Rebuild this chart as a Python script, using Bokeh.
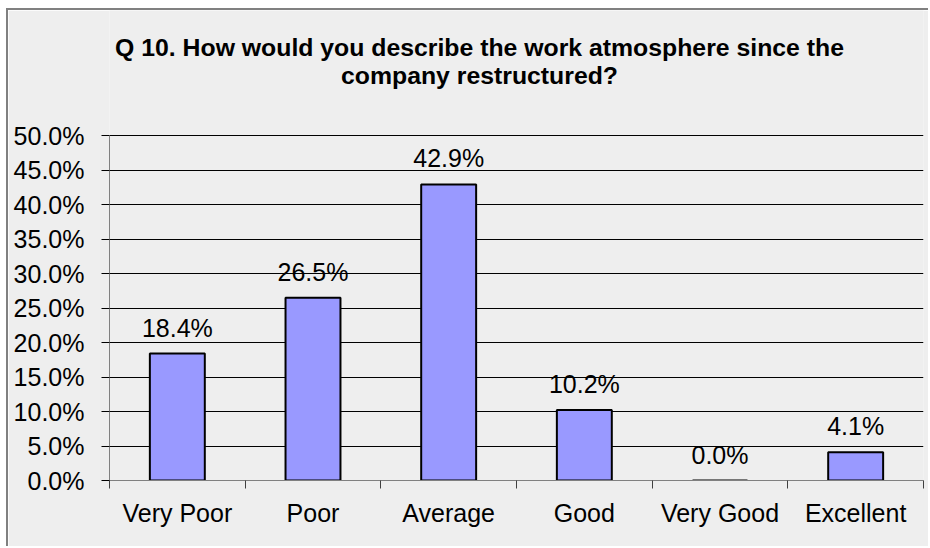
from bokeh.plotting import figure
from bokeh.models import (Range1d, FixedTicker, NumeralTickFormatter, LinearAxis,
                          ColumnDataSource, Label, Grid)
from bokeh.core.properties import value
from bokeh.embed import file_html
from bokeh.resources import INLINE

categories = ["Very Poor", "Poor", "Average", "Good", "Very Good", "Excellent"]
shares = [0.184, 0.265, 0.429, 0.102, 0.0, 0.041]
labels = ["18.4%", "26.5%", "42.9%", "10.2%", "0.0%", "4.1%"]
y_ticks = [0.0, 0.05, 0.10, 0.15, 0.20, 0.25, 0.30, 0.35, 0.40, 0.45, 0.50]
title_line1 = "Q 10. How would you describe the work atmosphere since the"
title_line2 = "company restructured?"

FONT = "Liberation Sans"
BG = "#eeeeee"

# layout (pixels)
FRAME_H = 470          # frame spans the title area too
AXIS_H = 345           # height of the 0..50% value axis
y_top = y_ticks[-1] * FRAME_H / AXIS_H

xpos = [i + 0.5 for i in range(len(categories))]
bounds = [float(i) for i in range(len(categories) + 1)]

src = ColumnDataSource(dict(x=xpos, top=shares, label=labels, cat=categories))

p = figure(width=922, height=538, output_backend="svg", toolbar_location=None,
           x_range=Range1d(0, len(categories)), y_range=Range1d(0, y_top),
           x_axis_type=None, y_axis_type=None,
           min_border_left=101, min_border_right=7, min_border_top=0,
           min_border_bottom=68)
p.styles = {"margin-left": "6px", "margin-top": "8px",
            "border-left": "2px solid #808080", "border-top": "2px solid #808080"}
p.background_fill_color = BG
p.border_fill_color = BG
p.outline_line_color = None

# title lines, placed in screen units relative to the plot frame
for txt, ty in ((title_line1, 433), (title_line2, 405)):
    p.add_layout(Label(x=370, y=ty, x_units="screen", y_units="screen", text=txt,
                       text_align="center", text_baseline="alphabetic",
                       text_font=FONT, text_font_size="24.8px",
                       text_font_style="bold", text_color="#000000"))

p.vbar(x="x", top="top", width=0.405, source=src, fill_color="#9999ff",
       line_color="#000000", line_width=2)

p.text(x="x", y="top", text="label", source=src, text_align="center",
       text_baseline="alphabetic", y_offset=-26, text_font=value(FONT),
       text_font_size="25px", text_color="#000000")

yaxis = LinearAxis(ticker=FixedTicker(ticks=y_ticks),
                   formatter=NumeralTickFormatter(format="0.0%"),
                   bounds=(y_ticks[0], y_ticks[-1]))
yaxis.major_label_text_font = FONT
yaxis.major_label_text_font_size = "25px"
yaxis.major_label_text_color = "#000000"
yaxis.major_tick_out = 8
yaxis.major_tick_in = 0
yaxis.major_tick_line_color = "#000000"
yaxis.minor_tick_line_color = None
yaxis.axis_line_color = "#808080"
yaxis.major_label_standoff = 17
p.add_layout(yaxis, "left")

xaxis = LinearAxis(ticker=FixedTicker(ticks=xpos, minor_ticks=bounds))
xaxis.major_label_overrides = {xv: c for xv, c in zip(xpos, categories)}
xaxis.major_label_text_font = FONT
xaxis.major_label_text_font_size = "25px"
xaxis.major_label_text_color = "#000000"
xaxis.major_tick_line_color = None
xaxis.minor_tick_out = 8
xaxis.minor_tick_in = 0
xaxis.minor_tick_line_color = "#404040"
xaxis.axis_line_color = "#808080"
xaxis.major_label_standoff = 10
p.add_layout(xaxis, "below")

p.add_layout(Grid(dimension=1, ticker=FixedTicker(ticks=y_ticks[1:]),
                  grid_line_color="#000000", grid_line_width=1))

open("out.html", "w").write(file_html(p, INLINE))
